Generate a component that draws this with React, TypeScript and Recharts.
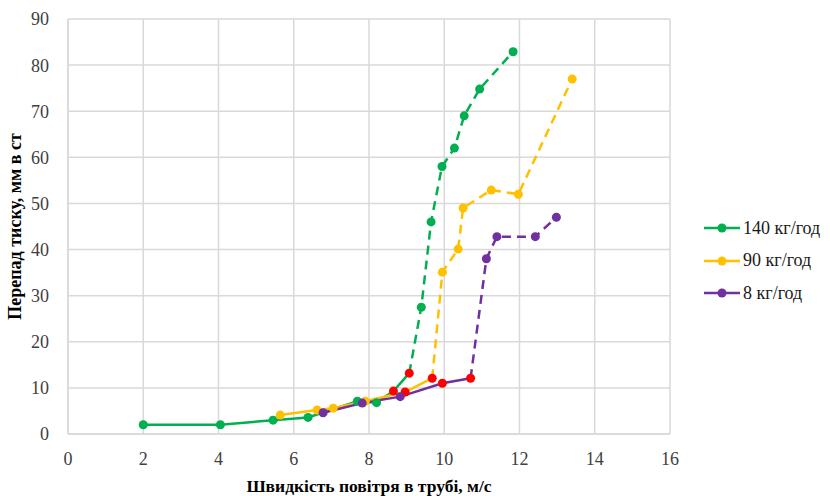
import { LineChart, Line, XAxis, YAxis, CartesianGrid } from 'recharts';

type Pt = { x: number; y: number };

// 140 кг/год
const greenSolid: Pt[] = [
  { x: 2, y: 2 }, { x: 4.05, y: 2 }, { x: 5.45, y: 3 }, { x: 6.38, y: 3.6 },
  { x: 7.69, y: 7.1 }, { x: 8.2, y: 6.8 }, { x: 8.65, y: 9.3 }, { x: 9.07, y: 13.2 },
];
const greenDashed: Pt[] = [
  { x: 9.07, y: 13.2 }, { x: 9.39, y: 27.5 }, { x: 9.65, y: 46 }, { x: 9.94, y: 58 },
  { x: 10.27, y: 62 }, { x: 10.53, y: 69 }, { x: 10.94, y: 74.8 }, { x: 11.83, y: 82.9 },
];

// 90 кг/год
const orangeSolid: Pt[] = [
  { x: 5.64, y: 4.1 }, { x: 6.62, y: 5.2 }, { x: 7.05, y: 5.6 }, { x: 7.9, y: 7.1 },
  { x: 8.96, y: 9.1 }, { x: 9.68, y: 12.1 },
];
const orangeDashed: Pt[] = [
  { x: 9.68, y: 12.1 }, { x: 9.95, y: 35.1 }, { x: 10.37, y: 40.1 }, { x: 10.5, y: 49 },
  { x: 11.25, y: 52.9 }, { x: 11.97, y: 52 }, { x: 13.4, y: 77 },
];

// 8 кг/год
const purpleSolid: Pt[] = [
  { x: 6.78, y: 4.6 }, { x: 7.82, y: 6.7 }, { x: 8.83, y: 8.1 }, { x: 9.95, y: 11 },
  { x: 10.7, y: 12.1 },
];
const purpleDashed: Pt[] = [
  { x: 10.7, y: 12.1 }, { x: 11.12, y: 38 }, { x: 11.4, y: 42.8 }, { x: 12.42, y: 42.8 },
  { x: 12.98, y: 47 },
];

const xTicks = [0, 2, 4, 6, 8, 10, 12, 14, 16];
const yTicks = [0, 10, 20, 30, 40, 50, 60, 70, 80, 90];

const GREEN = '#00B050';
const ORANGE = '#FFC000';
const PURPLE = '#7030A0';
const RED = '#FF0000';

const legendItems = [
  { name: '140 кг/год', color: GREEN },
  { name: '90 кг/год', color: ORANGE },
  { name: '8 кг/год', color: PURPLE },
];

const font = '"Liberation Serif", "Times New Roman", serif';

function solidDot(color: string, len: number) {
  return (props: any) => {
    const { cx, cy, index } = props;
    const fill = index >= len - 2 ? RED : color;
    return <circle key={`s-${color}-${index}`} cx={cx} cy={cy} r={4.5} fill={fill} stroke="none" />;
  };
}

function dashDot(color: string) {
  return (props: any) => {
    const { cx, cy, index } = props;
    if (index === 0) return <g key={`d-${color}-${index}`} />;
    return <circle key={`d-${color}-${index}`} cx={cx} cy={cy} r={4.5} fill={color} stroke="none" />;
  };
}

export default function App() {
  return (
    <div style={{ position: 'absolute', left: 0, top: 0, width: 830, height: 496, background: '#fff' }}>
      <LineChart width={830} height={496} margin={{ top: 19, right: 160, left: 0, bottom: 0 }}>
        <CartesianGrid stroke="#d9d9d9" strokeWidth={1.5} />
        <XAxis
          type="number"
          dataKey="x"
          domain={[0, 16]}
          ticks={xTicks}
          height={62}
          axisLine={{ stroke: '#d9d9d9', strokeWidth: 1.5 }}
          tickLine={false}
          tick={{ fontSize: 18, fill: '#404040', fontFamily: font }}
          tickMargin={12}
          label={{
            value: 'Швидкість повітря в трубі, м/с',
            position: 'insideBottom',
            offset: 4,
            style: { fontSize: 17.5, fontWeight: 'bold', fill: '#000', fontFamily: font },
          }}
        />
        <YAxis
          type="number"
          dataKey="y"
          domain={[0, 90]}
          ticks={yTicks}
          width={68}
          axisLine={{ stroke: '#d9d9d9', strokeWidth: 1.5 }}
          tickLine={false}
          tick={{ fontSize: 18, fill: '#404040', fontFamily: font }}
          tickMargin={13}
          label={{
            value: 'Перепад тиску, мм в ст',
            angle: -90,
            position: 'insideLeft',
            offset: 15,
            style: { fontSize: 18, fontWeight: 'bold', fill: '#000', fontFamily: font, textAnchor: 'middle' },
          }}
        />
        <Line data={greenDashed} dataKey="y" stroke={GREEN} strokeWidth={2.5} strokeDasharray="9 6" dot={dashDot(GREEN)} isAnimationActive={false} />
        <Line data={orangeDashed} dataKey="y" stroke={ORANGE} strokeWidth={2.5} strokeDasharray="9 6" dot={dashDot(ORANGE)} isAnimationActive={false} />
        <Line data={purpleDashed} dataKey="y" stroke={PURPLE} strokeWidth={2.5} strokeDasharray="9 6" dot={dashDot(PURPLE)} isAnimationActive={false} />
        <Line data={greenSolid} dataKey="y" stroke={GREEN} strokeWidth={2.5} dot={solidDot(GREEN, greenSolid.length)} isAnimationActive={false} />
        <Line data={orangeSolid} dataKey="y" stroke={ORANGE} strokeWidth={2.5} dot={solidDot(ORANGE, orangeSolid.length)} isAnimationActive={false} />
        <Line data={purpleSolid} dataKey="y" stroke={PURPLE} strokeWidth={2.5} dot={solidDot(PURPLE, purpleSolid.length)} isAnimationActive={false} />
      </LineChart>
      <div style={{ position: 'absolute', left: 704, top: 212, fontFamily: font, fontSize: 18, color: '#1a1a1a', whiteSpace: 'nowrap' }}>
        {legendItems.map((it) => (
          <div key={it.name} style={{ display: 'flex', alignItems: 'center', height: 32.5 }}>
            <svg width={36} height={12} style={{ marginRight: 3, flexShrink: 0 }}>
              <line x1={0} y1={6} x2={36} y2={6} stroke={it.color} strokeWidth={2.5} />
              <circle cx={18} cy={6} r={4.5} fill={it.color} />
            </svg>
            <span>{it.name}</span>
          </div>
        ))}
      </div>
    </div>
  );
}
